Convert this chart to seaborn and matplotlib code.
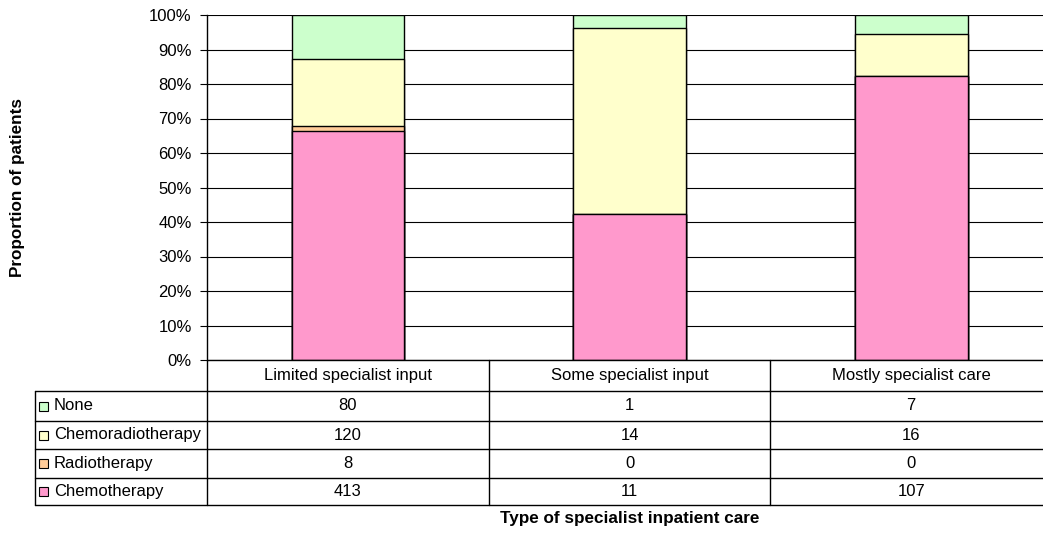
import matplotlib
matplotlib.use("Agg")
import matplotlib.pyplot as plt
import matplotlib.transforms as mtransforms
from matplotlib.lines import Line2D
from matplotlib.patches import Rectangle
import numpy as np
import pandas as pd
import seaborn as sns

# ---- data ----
categories = ["Limited specialist input", "Some specialist input", "Mostly specialist care"]
series_names = ["None", "Chemoradiotherapy", "Radiotherapy", "Chemotherapy"]  # table order (top to bottom)
none_vals = [80, 1, 7]
chemorad_vals = [120, 14, 16]
radio_vals = [8, 0, 0]
chemo_vals = [413, 11, 107]
yticks = [0, 10, 20, 30, 40, 50, 60, 70, 80, 90, 100]
ytick_labels = ["0%", "10%", "20%", "30%", "40%", "50%", "60%", "70%", "80%", "90%", "100%"]
colors = {"None": "#CCFFCC", "Chemoradiotherapy": "#FFFFCC",
          "Radiotherapy": "#FFCC99", "Chemotherapy": "#FF99CC"}

sns.set_style("white")
plt.rcParams["font.family"] = ["Liberation Sans", "DejaVu Sans"]
plt.rcParams["text.color"] = "black"
plt.rcParams["axes.labelcolor"] = "black"
plt.rcParams["xtick.color"] = "black"
plt.rcParams["ytick.color"] = "black"

W, H = 1043, 533
fig = plt.figure(figsize=(W / 100, H / 100), dpi=100)

def fx(px):
    return px / W

def fy(py):
    return 1 - py / H

ax_left, ax_right, ax_top, ax_bot = 207, 1052, 15, 360
ax = fig.add_axes([fx(ax_left), fy(ax_bot), fx(ax_right - ax_left), fy(ax_top) - fy(ax_bot)])

# ---- stacked (100%) bars ----
vals = {"None": np.array(none_vals, float), "Chemoradiotherapy": np.array(chemorad_vals, float),
        "Radiotherapy": np.array(radio_vals, float), "Chemotherapy": np.array(chemo_vals, float)}
total = sum(vals.values())
stack_order = ["Chemotherapy", "Radiotherapy", "Chemoradiotherapy", "None"]  # bottom to top
cum = {}
running = np.zeros(3)
for s in stack_order:
    running = running + vals[s] / total * 100
    cum[s] = running.copy()

for s in reversed(stack_order):  # tallest first
    df = pd.DataFrame({"cat": categories, "val": cum[s]})
    sns.barplot(data=df, x="cat", y="val", color=colors[s], saturation=1,
                edgecolor="black", linewidth=1.0, width=0.4, ax=ax, zorder=3)

ax.set_xlim(-0.5, 2.5)
ax.set_ylim(0, 100)
ax.set_yticks(yticks)
ax.set_yticklabels(ytick_labels, fontsize=12, color="black")
ax.tick_params(axis="y", left=True, length=5, width=0.8, color="black", pad=6)
ax.set_xticks([])
ax.set_xlabel("")
ax.set_ylabel("")
ax.yaxis.grid(True, color="black", linewidth=0.8)
ax.set_axisbelow(True)
for sp in ["top", "right", "bottom"]:
    ax.spines[sp].set_visible(False)
ax.spines["left"].set_color("black")
ax.spines["left"].set_linewidth(1.0)

# ---- data table ----
blend = mtransforms.blended_transform_factory(ax.transData, fig.transFigure)
row_edges = [360, 391, 421, 449, 478, 505]
lab_left = 35
lc = "black"
lw = 1.0
# horizontal lines
fig.add_artist(Line2D([fx(ax_left), fx(W + 20)], [fy(row_edges[0])] * 2, color=lc, lw=lw))
for yy in row_edges[1:]:
    fig.add_artist(Line2D([fx(lab_left), fx(W + 20)], [fy(yy)] * 2, color=lc, lw=lw))
# vertical lines
fig.add_artist(Line2D([fx(lab_left)] * 2, [fy(row_edges[1]), fy(row_edges[-1])], color=lc, lw=lw))
for xb in [-0.5, 0.5, 1.5]:
    fig.add_artist(Line2D([xb, xb], [fy(row_edges[0]), fy(row_edges[-1])], color=lc, lw=lw,
                          transform=blend))

fs = 12
# header row
for i, c in enumerate(categories):
    fig.text(i, fy((row_edges[0] + row_edges[1]) / 2), c, transform=blend,
             ha="center", va="center", fontsize=fs, color="black")
# series rows
for r, s in enumerate(series_names):
    yc = (row_edges[r + 1] + row_edges[r + 2]) / 2
    fig.add_artist(Rectangle((fx(39), fy(yc + 4.5)), fx(9), fy(yc - 4.5) - fy(yc + 4.5),
                             facecolor=colors[s], edgecolor="black", lw=0.8,
                             transform=fig.transFigure))
    fig.text(fx(54), fy(yc), s, ha="left", va="center", fontsize=fs, color="black")
    for i in range(3):
        fig.text(i, fy(yc), str(int(vals[s][i])), transform=blend,
                 ha="center", va="center", fontsize=fs, color="black")

# axis titles
fig.text(fx((ax_left + ax_right) / 2), fy(519), "Type of specialist inpatient care",
         ha="center", va="center", fontsize=12.3, fontweight="bold", color="black")
fig.text(fx(18), fy((ax_top + ax_bot) / 2), "Proportion of patients", rotation=90,
         ha="center", va="center", fontsize=12.3, fontweight="bold", color="black")

fig.savefig("out.png", dpi=100, facecolor="white")
